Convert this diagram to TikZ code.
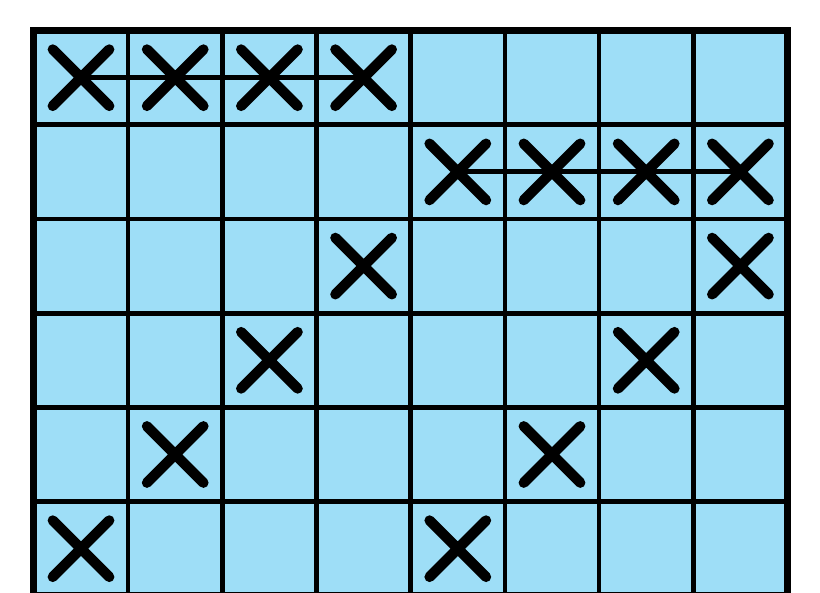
\documentclass[tikz,border=0pt]{standalone}
\usepackage{xcolor}
\usepackage{tikz}
\definecolor{cellblue}{RGB}{158,222,247}

\begin{document}
\begin{tikzpicture}[xmark/.style={line width=3.1pt, line cap=round},
                    joinline/.style={line width=1.5pt}]
    \useasboundingbox (-0.36,0.03) rectangle (8.345,6.325);
    \fill[cellblue] (0,0) rectangle (8,6);
    \draw[line width=1.4pt] (0,0) grid (8,6);
    \draw[line width=2.1pt] (0,0) rectangle (8,6);
    % cell centres: c<row from top><column>
    \foreach \r in {1,...,6}
        \foreach \c in {1,...,8}
            \coordinate (c\r\c) at (\c-0.5, 6.5-\r);
    \foreach \p in {11,12,13,14,25,26,27,28,34,38,43,47,52,56,61,65}
        \draw[xmark, shift={(c\p)}] (-0.3,-0.3) -- (0.3,0.3) (-0.3,0.3) -- (0.3,-0.3);
    \draw[joinline] (c11) -- (c14);
    \draw[joinline] (c25) -- (c28);
\end{tikzpicture}
\end{document}
